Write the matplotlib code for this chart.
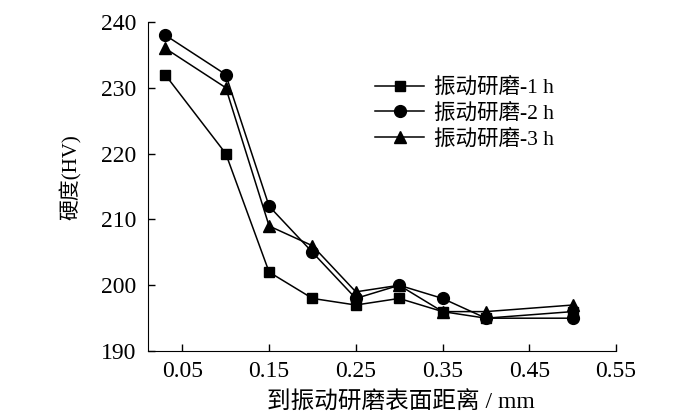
import matplotlib.pyplot as plt

plt.rcParams['font.family'] = ['Liberation Serif', 'Noto Sans CJK SC']
plt.rcParams['axes.unicode_minus'] = False

distance = [0.03, 0.10, 0.15, 0.20, 0.25, 0.30, 0.35, 0.40, 0.50]
hv_1h = [232, 220, 202, 198, 197, 198, 196, 195, 196]
hv_2h = [238, 232, 212, 205, 198, 200, 198, 195, 195]
hv_3h = [236, 230, 209, 206, 199, 200, 196, 196, 197]
labels = ['振动研磨-1 h', '振动研磨-2 h', '振动研磨-3 h']
x_ticks = [0.05, 0.15, 0.25, 0.35, 0.45, 0.55]
y_ticks = [190, 200, 210, 220, 230, 240]

fig = plt.figure(figsize=(7, 4.2), dpi=100)
ax = fig.add_axes([0.211, 0.164, 0.669, 0.784])

ax.plot(distance, hv_1h, color='black', marker='s', markersize=7.5, lw=1.1, label=labels[0])
ax.plot(distance, hv_2h, color='black', marker='o', markersize=8.5, lw=1.1, label=labels[1])
ax.plot(distance, hv_3h, color='black', marker='^', markersize=8.5, lw=1.1, label=labels[2])

ax.set_xlim(0.01, 0.55)
ax.set_ylim(190, 240)
ax.set_xticks(x_ticks)
ax.set_xticklabels(['%.2f' % t for t in x_ticks])
ax.set_yticks(y_ticks)
ax.spines['top'].set_visible(False)
ax.spines['right'].set_visible(False)
ax.tick_params(direction='in', length=5, width=1, labelsize=17)
ax.tick_params(axis='y', pad=8)
ax.tick_params(axis='x', pad=7)

ax.set_xlabel('到振动研磨表面距离 / mm', fontsize=17)
ax.set_ylabel('硬度(HV)', fontsize=15)
ax.xaxis.set_label_coords(0.541, -0.122)
ax.yaxis.set_label_coords(-0.14, 0.527)

ax.legend(loc='upper left', bbox_to_anchor=(0.485, 0.83), frameon=False,
          fontsize=15.5, handlelength=2.3, labelspacing=0.25, handletextpad=0.45,
          borderaxespad=0, borderpad=0)

fig.savefig('out.png', dpi=100)
